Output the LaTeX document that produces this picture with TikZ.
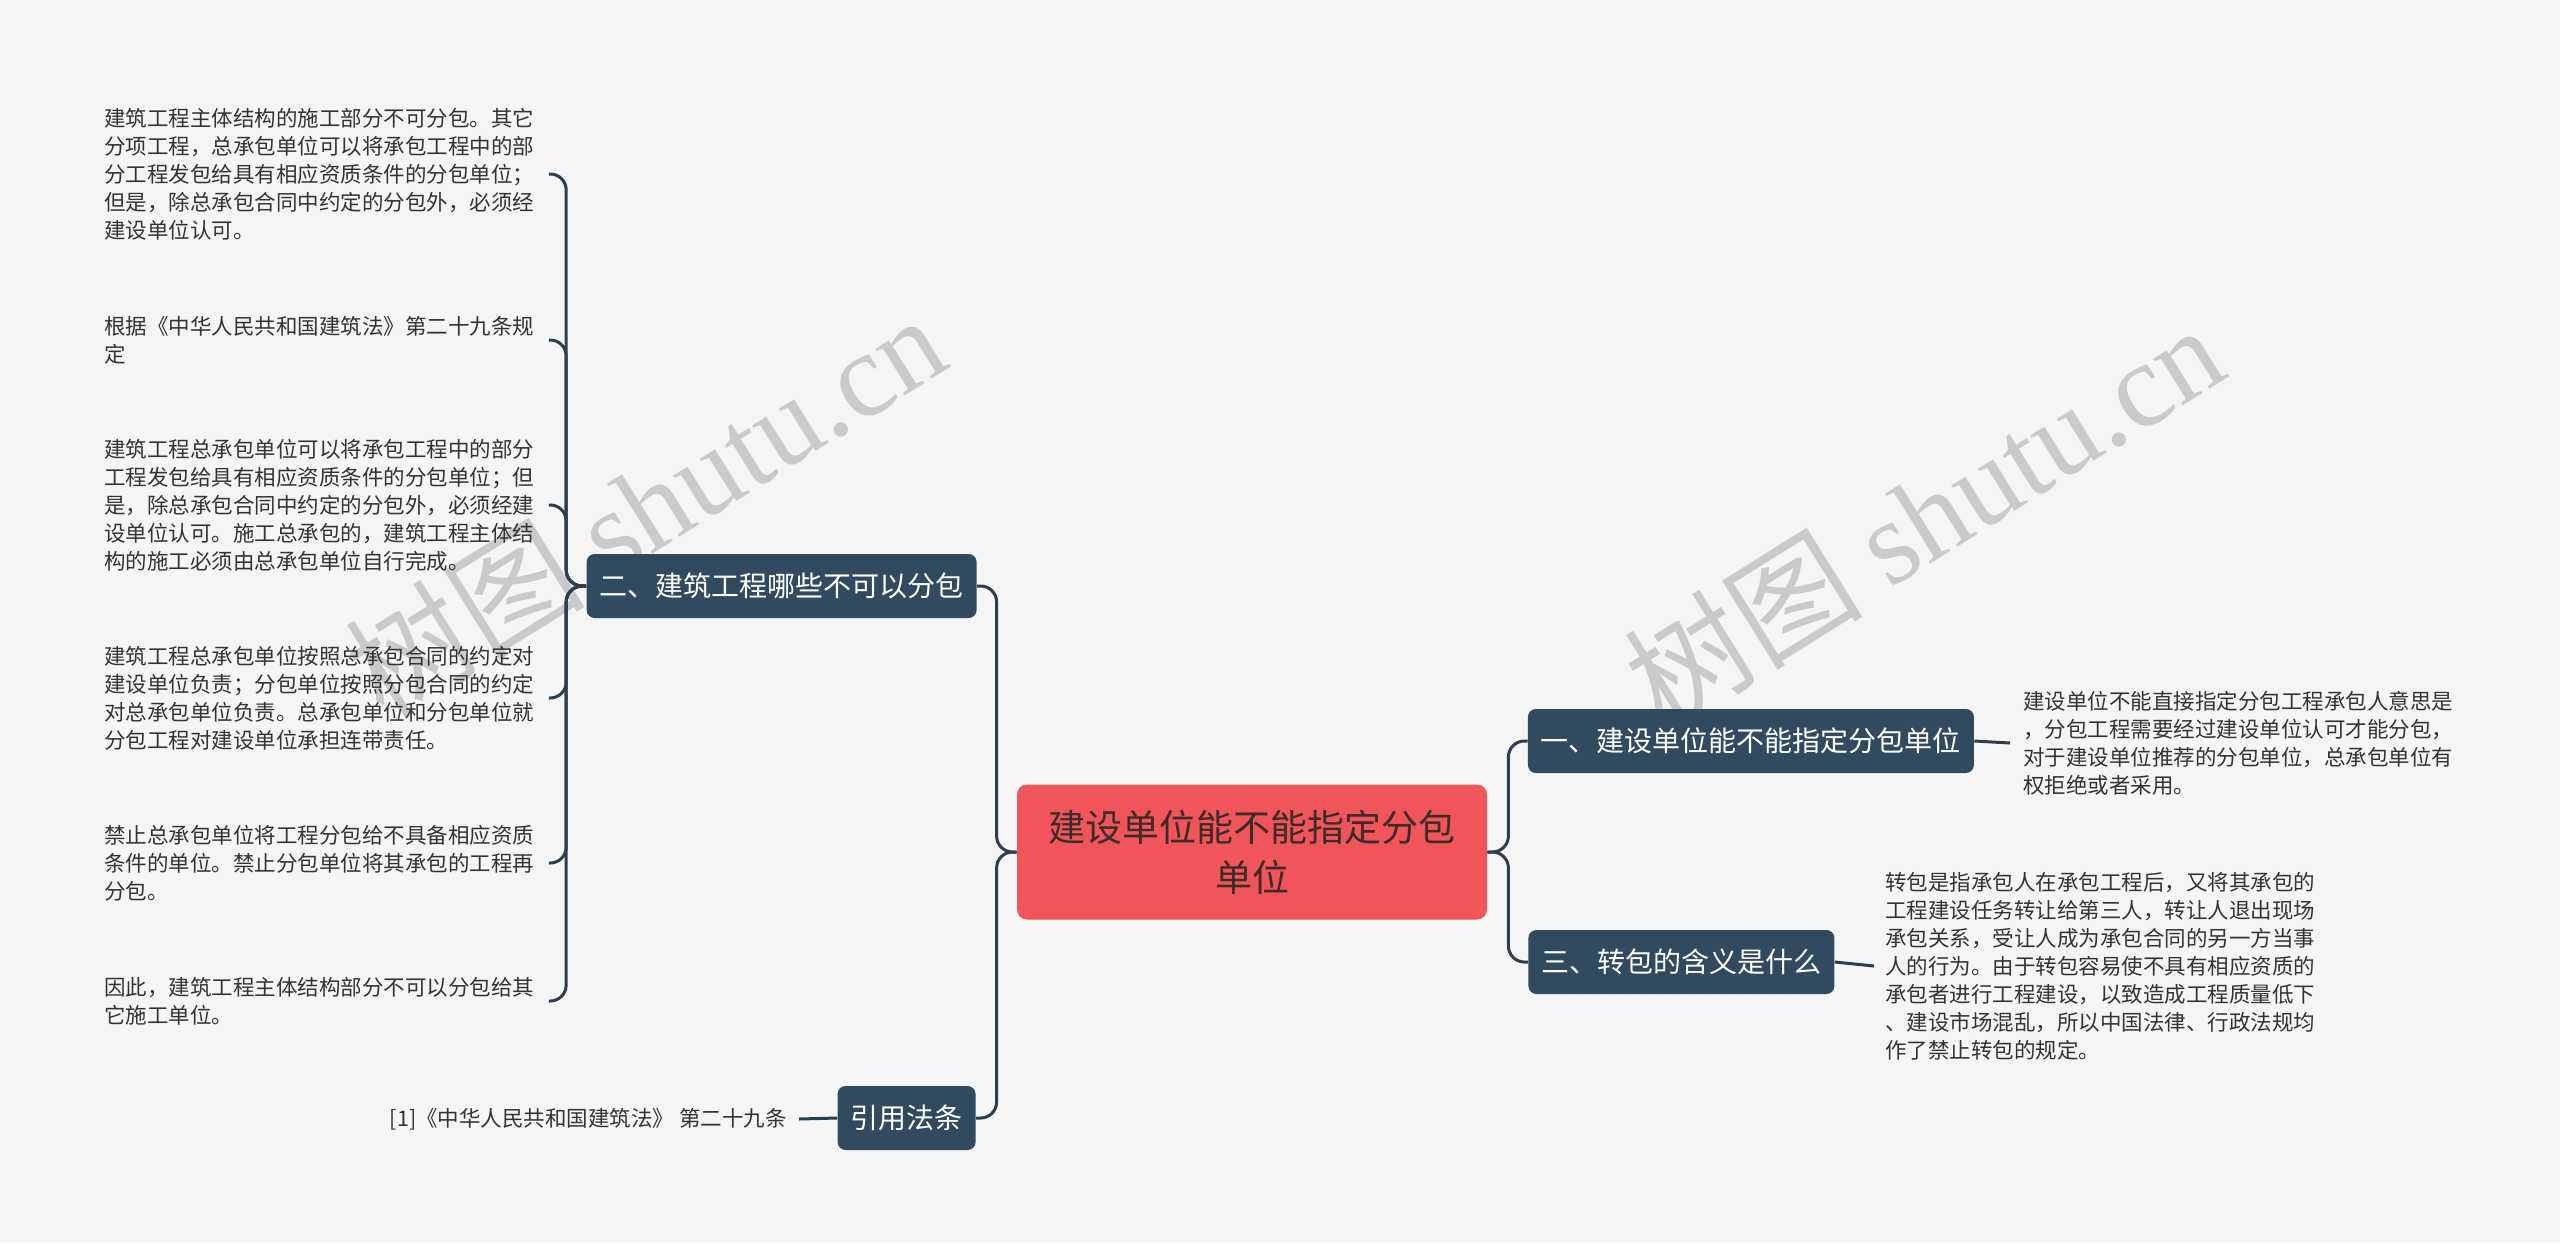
\documentclass[tikz,border=0pt]{standalone}
\usepackage{fontspec}
\setmainfont{Noto Sans CJK SC}
\newfontfamily\wmserif{Liberation Serif}
\usetikzlibrary{positioning}
\definecolor{bgcol}{HTML}{F5F5F5}
\definecolor{rootred}{HTML}{F05659}
\definecolor{roottext}{HTML}{3E2A2A}
\definecolor{topicblue}{HTML}{324A5F}
\definecolor{linecol}{HTML}{2C3E50}
\definecolor{leafgray}{HTML}{333333}
\definecolor{wmgray}{HTML}{CACACA}
\tikzset{
  conn/.style={draw=linecol, line width=1.5pt, rounded corners=8pt},
  rootbox/.style={fill=rootred, text=roottext, rounded corners=5pt,
    minimum width=235pt, minimum height=67.5pt, align=center,
    font=\fontsize{18.5}{25}\selectfont},
  topic/.style={fill=topicblue, text=white, rounded corners=4pt,
    minimum height=32pt, inner xsep=6.5pt, inner ysep=0pt,
    font=\fontsize{14}{16}\selectfont},
  leaf/.style={text=leafgray, align=left, inner sep=0pt,
    font=\fontsize{10.75}{14}\selectfont},
  watermark/.style={text=wmgray, rotate=32, inner sep=0pt,
    font=\fontsize{60}{62}\selectfont}
}
\begin{document}
\begin{tikzpicture}[x=0.5pt,y=-0.5pt]
  % background
  \fill[bgcol] (0,0) rectangle (2560,1243);
  \useasboundingbox (0,0) rectangle (2560,1243);

  % watermarks
  \node (wmL) at (645,505)  [watermark] {树图 {\wmserif shutu.cn}};
  \node (wmR) at (1923,515) [watermark] {树图 {\wmserif shutu.cn}};

  % root
  \node (root) at (1252,852) [rootbox] {建设单位能不能指定分包\\单位};

  % topics
  \node (one)   at (1527.5,741) [topic,anchor=west] {一、建设单位能不能指定分包单位};
  \node (three) at (1528,962)   [topic,anchor=west] {三、转包的含义是什么};
  \node (two)   at (977,586)    [topic,anchor=east] {二、建筑工程哪些不可以分包};
  \node (cite)  at (976,1118)   [topic,anchor=east] {引用法条};

  % right leaves
  \node (oneA) at (2023,743) [leaf,anchor=west]
    {建设单位不能直接指定分包工程承包人意思是\\，分包工程需要经过建设单位认可才能分包，\\对于建设单位推荐的分包单位，总承包单位有\\权拒绝或者采用。};
  \node (threeA) at (1885,966) [leaf,anchor=west]
    {转包是指承包人在承包工程后，又将其承包的\\工程建设任务转让给第三人，转让人退出现场\\承包关系，受让人成为承包合同的另一方当事\\人的行为。由于转包容易使不具有相应资质的\\承包者进行工程建设，以致造成工程质量低下\\、建设市场混乱，所以中国法律、行政法规均\\作了禁止转包的规定。};

  % left leaves
  \node (twoA) at (104,174) [leaf,anchor=west]
    {建筑工程主体结构的施工部分不可分包。其它\\分项工程，总承包单位可以将承包工程中的部\\分工程发包给具有相应资质条件的分包单位；\\但是，除总承包合同中约定的分包外，必须经\\建设单位认可。};
  \node (twoB) at (104,340) [leaf,anchor=west]
    {根据《中华人民共和国建筑法》第二十九条规\\定};
  \node (twoC) at (104,505) [leaf,anchor=west]
    {建筑工程总承包单位可以将承包工程中的部分\\工程发包给具有相应资质条件的分包单位；但\\是，除总承包合同中约定的分包外，必须经建\\设单位认可。施工总承包的，建筑工程主体结\\构的施工必须由总承包单位自行完成。};
  \node (twoD) at (104,698) [leaf,anchor=west]
    {建筑工程总承包单位按照总承包合同的约定对\\建设单位负责；分包单位按照分包合同的约定\\对总承包单位负责。总承包单位和分包单位就\\分包工程对建设单位承担连带责任。};
  \node (twoE) at (104,863) [leaf,anchor=west]
    {禁止总承包单位将工程分包给不具备相应资质\\条件的单位。禁止分包单位将其承包的工程再\\分包。};
  \node (twoF) at (104,1001) [leaf,anchor=west]
    {因此，建筑工程主体结构部分不可以分包给其\\它施工单位。};
  \node (citeA) at (787,1119) [leaf,anchor=east]
    {[1]《中华人民共和国建筑法》 第二十九条};

  % root to topics
  \draw[conn] (root.east) -- ++(10.5pt,0) |- (one.west);
  \draw[conn] (root.east) -- ++(10.5pt,0) |- (three.west);
  \draw[conn] (root.west) -- ++(-10pt,0) |- (two.east);
  \draw[conn] (root.west) -- ++(-10pt,0) |- (cite.east);

  % topics to leaves
  \draw[conn] (one.east) -- ([xshift=-6.5pt]oneA.west);
  \draw[conn] (three.east) -- ([xshift=-5.5pt]threeA.west);
  \foreach \t in {twoA,twoB,twoC,twoD,twoE,twoF}
    \draw[conn] (two.west) -- ++(-10pt,0) |- ([xshift=7pt]\t.east);
  \draw[conn] (cite.west) -- ([xshift=6pt]citeA.east);
\end{tikzpicture}
\end{document}
